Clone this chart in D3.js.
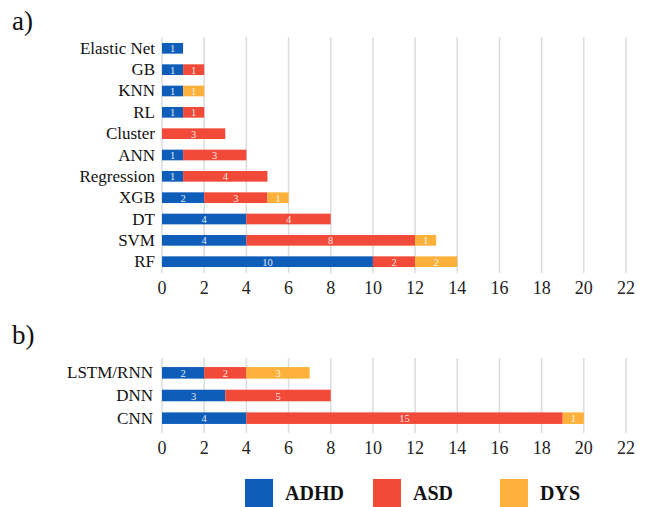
<!DOCTYPE html>
<html>
<head>
<meta charset="utf-8">
<script src="https://cdn.jsdelivr.net/npm/d3@7"></script>
<style>
  html, body { margin: 0; padding: 0; background: #fff; }
  svg { display: block; }
</style>
</head>
<body>
<svg id="chart" width="648" height="507"></svg>
<script>
// ---- data ----
const seriesNames = ["ADHD", "ASD", "DYS"];
const seriesColors = ["#0E5DB9", "#F14A38", "#FDB13A"];

const catsA = ["Elastic Net", "GB", "KNN", "RL", "Cluster", "ANN", "Regression", "XGB", "DT", "SVM", "RF"];
const adhdA = [1, 1, 1, 1, 0, 1, 1, 2, 4, 4, 10];
const asdA  = [0, 1, 0, 1, 3, 3, 4, 3, 4, 8, 2];
const dysA  = [0, 0, 1, 0, 0, 0, 0, 1, 0, 1, 2];

const catsB = ["LSTM/RNN", "DNN", "CNN"];
const adhdB = [2, 3, 4];
const asdB  = [2, 5, 15];
const dysB  = [3, 0, 1];

const xTicks = [0, 2, 4, 6, 8, 10, 12, 14, 16, 18, 20, 22];

// ---- drawing ----
const svg = d3.select("#chart");
const serif = "'Liberation Serif', 'Times New Roman', serif";
const x = d3.scaleLinear().domain([0, 22]).range([162, 626]);

function panel(cats, adhd, asd, dys, top, bottom, pInner, pOuter, labelX, tag, tagY) {
  const g = svg.append("g");
  const y = d3.scaleBand().domain(cats).range([top, bottom])
    .paddingInner(pInner).paddingOuter(pOuter);

  // gridlines
  g.selectAll("line.grid").data(xTicks).enter().append("line")
    .attr("x1", d => x(d)).attr("x2", d => x(d))
    .attr("y1", top).attr("y2", bottom)
    .attr("stroke", "#DCDCDC").attr("stroke-width", 1.5);

  // tick labels
  g.selectAll("text.tick").data(xTicks).enter().append("text")
    .attr("x", d => x(d)).attr("y", bottom + 15)
    .attr("text-anchor", "middle").attr("dominant-baseline", "central")
    .attr("font-family", serif).attr("font-size", 18).attr("fill", "#222")
    .text(d => d);

  // stacked data
  const rows = cats.map((c, i) => ({ cat: c, ADHD: adhd[i], ASD: asd[i], DYS: dys[i] }));
  const stacked = d3.stack().keys(seriesNames)(rows);

  stacked.forEach((layer, si) => {
    const segs = layer.map(d => ({ x0: d[0], x1: d[1], cat: d.data.cat, v: d[1] - d[0] }))
      .filter(d => d.v > 0);
    g.selectAll(null).data(segs).enter().append("rect")
      .attr("x", d => x(d.x0)).attr("width", d => x(d.x1) - x(d.x0))
      .attr("y", d => y(d.cat)).attr("height", y.bandwidth())
      .attr("fill", seriesColors[si]);
    g.selectAll(null).data(segs).enter().append("text")
      .attr("x", d => (x(d.x0) + x(d.x1)) / 2)
      .attr("y", d => y(d.cat) + y.bandwidth() / 2 + 0.5)
      .attr("text-anchor", "middle").attr("dominant-baseline", "central")
      .attr("font-family", serif).attr("font-size", 10.5)
      .attr("fill", "#fff").attr("fill-opacity", 0.9)
      .text(d => d.v);
  });

  // category labels
  g.selectAll("text.cat").data(cats).enter().append("text")
    .attr("x", labelX).attr("y", d => y(d) + y.bandwidth() / 2)
    .attr("text-anchor", "end").attr("dominant-baseline", "central")
    .attr("font-family", serif).attr("font-size", 17).attr("fill", "#111")
    .text(d => d);

  // panel tag
  svg.append("text").attr("x", 12).attr("y", tagY)
    .attr("font-family", serif).attr("font-size", 27).attr("fill", "#111")
    .text(tag);
}

panel(catsA, adhdA, asdA, dysA, 37, 273, 0.5, 0.28, 155, "a)", 30);
panel(catsB, adhdB, asdB, dysB, 358, 433, 0.49, 0.4, 153, "b)", 344);

// legend
const legX = [245, 373, 500];
const leg = svg.append("g");
seriesNames.forEach((name, i) => {
  leg.append("rect").attr("x", legX[i]).attr("y", 479).attr("width", 28).attr("height", 28)
    .attr("fill", seriesColors[i]);
  leg.append("text").attr("x", legX[i] + 40).attr("y", 493)
    .attr("dominant-baseline", "central")
    .attr("font-family", serif).attr("font-weight", "bold").attr("font-size", 20)
    .attr("fill", "#111").text(name);
});
</script>
</body>
</html>
